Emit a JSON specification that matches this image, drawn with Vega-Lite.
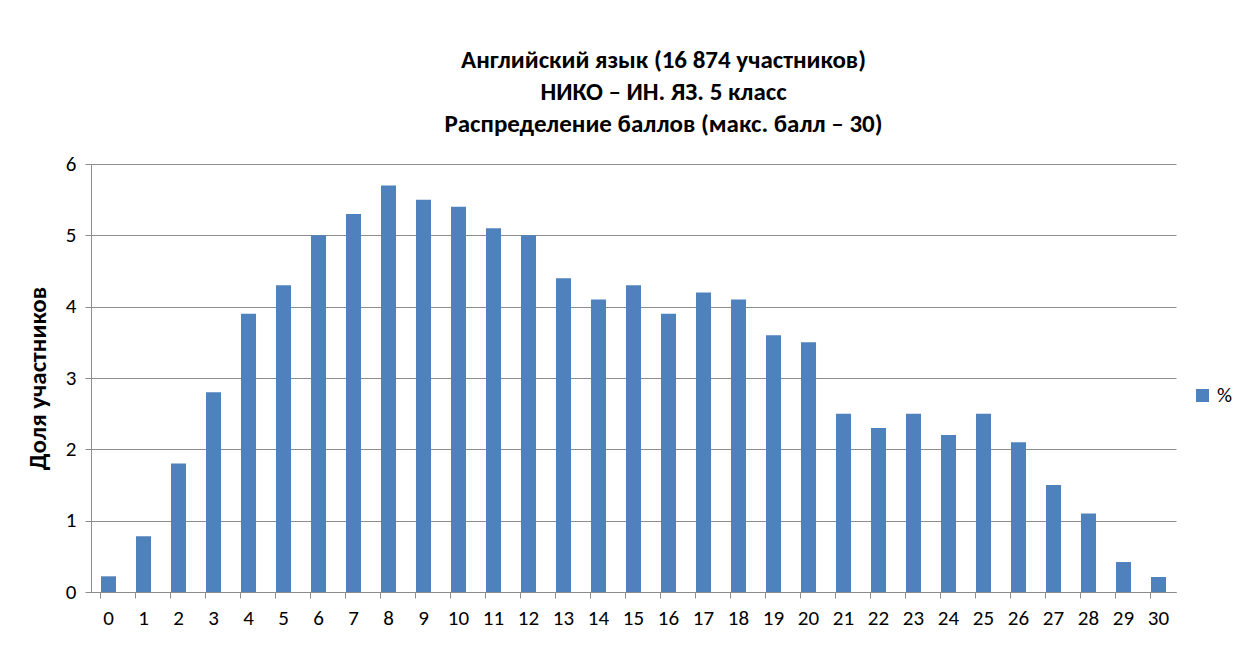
{
  "$schema": "https://vega.github.io/schema/vega-lite/v6.json",
  "autosize": {"type": "none"},
  "padding": {"left": 91, "top": 164, "right": 58, "bottom": 56},
  "width": 1085,
  "height": 428,
  "background": "white",
  "title": {
    "text": ["Английский язык (16 874  участников)", "НИКО – ИН. ЯЗ. 5 класс", "Распределение баллов (макс. балл – 30)"],
    "anchor": "middle",
    "frame": "group",
    "dx": 30,
    "offset": 16,
    "lineHeight": 32,
    "fontSize": 25,
    "font": "Carlito, Liberation Sans Narrow, Open Sans",
    "fontWeight": "bold",
    "color": "#000000"
  },
  "data": {
    "values": [
      {"score": 0, "pct": 0.22, "series": "%"},
      {"score": 1, "pct": 0.78, "series": "%"},
      {"score": 2, "pct": 1.8, "series": "%"},
      {"score": 3, "pct": 2.8, "series": "%"},
      {"score": 4, "pct": 3.9, "series": "%"},
      {"score": 5, "pct": 4.3, "series": "%"},
      {"score": 6, "pct": 5.0, "series": "%"},
      {"score": 7, "pct": 5.3, "series": "%"},
      {"score": 8, "pct": 5.7, "series": "%"},
      {"score": 9, "pct": 5.5, "series": "%"},
      {"score": 10, "pct": 5.4, "series": "%"},
      {"score": 11, "pct": 5.1, "series": "%"},
      {"score": 12, "pct": 5.0, "series": "%"},
      {"score": 13, "pct": 4.4, "series": "%"},
      {"score": 14, "pct": 4.1, "series": "%"},
      {"score": 15, "pct": 4.3, "series": "%"},
      {"score": 16, "pct": 3.9, "series": "%"},
      {"score": 17, "pct": 4.2, "series": "%"},
      {"score": 18, "pct": 4.1, "series": "%"},
      {"score": 19, "pct": 3.6, "series": "%"},
      {"score": 20, "pct": 3.5, "series": "%"},
      {"score": 21, "pct": 2.5, "series": "%"},
      {"score": 22, "pct": 2.3, "series": "%"},
      {"score": 23, "pct": 2.5, "series": "%"},
      {"score": 24, "pct": 2.2, "series": "%"},
      {"score": 25, "pct": 2.5, "series": "%"},
      {"score": 26, "pct": 2.1, "series": "%"},
      {"score": 27, "pct": 1.5, "series": "%"},
      {"score": 28, "pct": 1.1, "series": "%"},
      {"score": 29, "pct": 0.42, "series": "%"},
      {"score": 30, "pct": 0.21, "series": "%"}
    ]
  },
  "mark": {"type": "bar"},
  "encoding": {
    "x": {
      "field": "score",
      "type": "ordinal",
      "sort": null,
      "scale": {"paddingInner": 0.57, "paddingOuter": 0.285},
      "axis": {
        "title": null,
        "labelAngle": 0,
        "labelFontSize": 21,
        "labelFont": "Carlito, Liberation Sans Narrow, Open Sans",
        "labelColor": "#000000",
        "labelPadding": 9,
        "bandPosition": 0,
        "tickSize": 6,
        "tickColor": "#8c8c8c",
        "domainColor": "#8c8c8c",
        "grid": false
      }
    },
    "y": {
      "field": "pct",
      "type": "quantitative",
      "scale": {"domain": [0, 6], "nice": false},
      "axis": {
        "values": [0, 1, 2, 3, 4, 5, 6],
        "title": "Доля участников",
        "titleFontSize": 25,
        "titleFont": "Carlito, Liberation Sans Narrow, Open Sans",
        "titleFontWeight": "bold",
        "titleColor": "#000000",
        "titlePadding": 15,
        "labelFontSize": 21,
        "labelFont": "Carlito, Liberation Sans Narrow, Open Sans",
        "labelColor": "#000000",
        "labelPadding": 9,
        "tickSize": 6,
        "tickColor": "#8c8c8c",
        "domainColor": "#8c8c8c",
        "grid": true,
        "gridColor": "#8c8c8c",
        "gridWidth": 1
      }
    },
    "color": {
      "field": "series",
      "type": "nominal",
      "scale": {"range": ["#4F81BD"]},
      "legend": {
        "title": null,
        "orient": "none",
        "legendX": 1101,
        "legendY": 221,
        "padding": 0,
        "symbolType": "square",
        "symbolSize": 169,
        "symbolStrokeWidth": 0,
        "labelFontSize": 21,
        "labelFont": "Carlito, Liberation Sans Narrow, Open Sans",
        "labelColor": "#000000",
        "labelOffset": 4
      }
    }
  },
  "config": {
    "view": {"stroke": null}
  }
}
